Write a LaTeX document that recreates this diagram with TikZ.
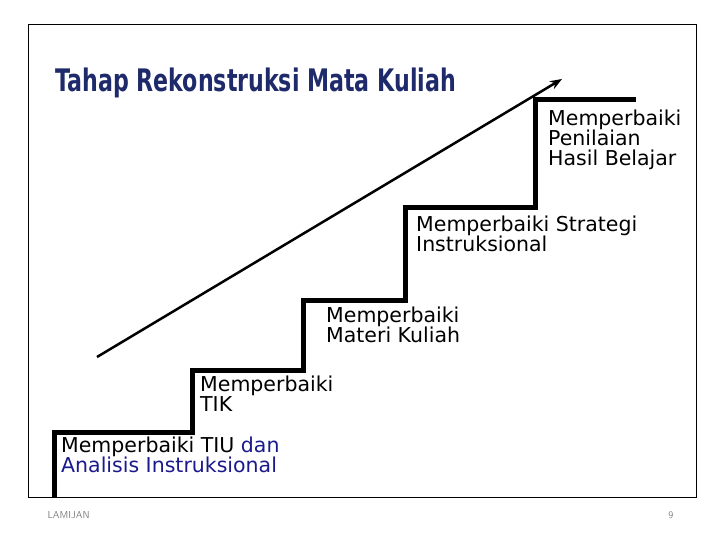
\documentclass[tikz,border=0pt]{standalone}
\usepackage{fontspec}
\setmainfont{DejaVu Sans}
\usetikzlibrary{arrows.meta}
\definecolor{navy}{HTML}{1A1A8C}
\definecolor{ttl}{HTML}{1F2A6B}
\begin{document}
\begin{tikzpicture}[x=1pt,y=-1pt,
  lbl/.style={anchor=north west,inner sep=0pt,align=left,font=\fontsize{20.5}{20}\selectfont},
  foot/.style={font=\fontsize{10}{11}\selectfont\sffamily,text=gray}]
\useasboundingbox (0,0) rectangle (720,540);
\draw[line width=0.8pt] (28,24) rectangle (696,497);
\node (title)[anchor=west,inner sep=0pt,text=ttl,font=\fontsize{27}{29}\selectfont\bfseries] at (55,83) {\scalebox{0.82}[1.15]{Tahap Rekonstruksi Mata Kuliah}};
\draw[line width=5pt,line join=miter] (54,497) -- (54,432) -- (192,432) -- (192,370) -- (303,370) -- (303,300) -- (405,300) -- (405,208) -- (535,208) -- (535,100) -- (636,100);
\coordinate (a0) at (97,357);
\coordinate (a1) at (562,79);
\draw[line width=2.5pt,-{Stealth[length=12pt,width=9pt]}] (a0) -- (a1);
\node (l5)[lbl] at (548,110) {Memperbaiki\\Penilaian\\Hasil Belajar};
\node (l4)[lbl] at (416,216) {Memperbaiki Strategi\\Instruksional};
\node (l3)[lbl] at (326,307) {Memperbaiki\\Materi Kuliah};
\node (l2)[lbl] at (200,376) {Memperbaiki\\TIK};
\node (l1)[lbl] at (61,437) {Memperbaiki TIU \textcolor{navy}{dan}\\\textcolor{navy}{Analisis Instruksional}};
\node (f1)[foot,anchor=west] at (44,515) {LAMIJAN};
\node (f2)[foot,anchor=east] at (677,515) {9};
\end{tikzpicture}
\end{document}
